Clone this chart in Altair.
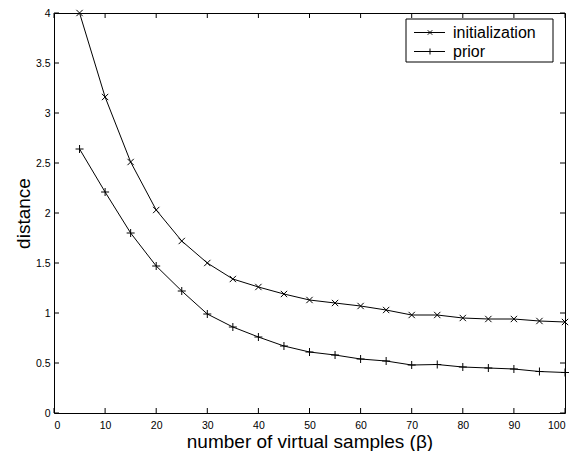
import altair as alt
import pandas as pd

# ---- data ----
beta = [5, 10, 15, 20, 25, 30, 35, 40, 45, 50, 55, 60, 65, 70, 75, 80, 85, 90, 95, 100]
init_dist = [4.00, 3.16, 2.51, 2.03, 1.72, 1.50, 1.34, 1.26, 1.19, 1.13,
             1.10, 1.07, 1.03, 0.98, 0.98, 0.95, 0.94, 0.94, 0.92, 0.91]
prior_dist = [2.64, 2.21, 1.80, 1.47, 1.22, 0.99, 0.86, 0.76, 0.67, 0.61,
              0.58, 0.54, 0.52, 0.48, 0.485, 0.46, 0.45, 0.44, 0.415, 0.405]
series_names = ["initialization", "prior"]
x_ticks = [0, 10, 20, 30, 40, 50, 60, 70, 80, 90, 100]
y_ticks = [0, 0.5, 1, 1.5, 2, 2.5, 3, 3.5, 4]

X_PATH = "M-1,-1L1,1M-1,1L1,-1"
PLUS_PATH = "M-1,0L1,0M0,-1L0,1"

W, H = 511, 400
FONT = "Liberation Sans"

rows = []
for b, v in zip(beta, init_dist):
    rows.append({"beta": b, "distance": v, "series": series_names[0]})
for b, v in zip(beta, prior_dist):
    rows.append({"beta": b, "distance": v, "series": series_names[1]})
df = pd.DataFrame(rows)

xdf = pd.DataFrame({"t": x_ticks})
ydf = pd.DataFrame({"t": y_ticks})
legdf = pd.DataFrame({"series": series_names})

xscale = alt.Scale(domain=[0, 100], nice=False, zero=False)
yscale = alt.Scale(domain=[0, 4], nice=False, zero=False)

X = alt.X("beta:Q", scale=xscale,
          axis=alt.Axis(values=x_ticks, title="number of virtual samples (β)",
                        grid=False, domain=False, ticks=False, labelPadding=7,
                        labelFontSize=10.5, titleFontSize=19, titleFontWeight="normal",
                        titleBaseline="alphabetic", titleY=34, labelColor="black",
                        titleColor="black", labelFont=FONT, titleFont=FONT))
Y = alt.Y("distance:Q", scale=yscale,
          axis=alt.Axis(values=y_ticks, format="~g", title="distance", grid=False, domain=False,
                        ticks=False, labelPadding=4, labelFontSize=10.5,
                        titleFontSize=19, titleFontWeight="normal",
                        titleBaseline="alphabetic", titleX=-25, titleY=H / 2,
                        titleAlign="center", titleAngle=270, labelColor="black",
                        titleColor="black", labelFont=FONT, titleFont=FONT))

lines = alt.Chart(df).mark_line(color="black", strokeWidth=1).encode(
    x=X, y=Y, detail="series:N")

points = alt.Chart(df).mark_point(filled=False, color="black", strokeWidth=1, opacity=1).encode(
    x="beta:Q", y="distance:Q",
    shape=alt.Shape("series:N", scale=alt.Scale(domain=series_names, range=[X_PATH, PLUS_PATH]), legend=None),
    size=alt.Size("series:N", scale=alt.Scale(domain=series_names, range=[40, 64]), legend=None),
)

tk = dict(color="black", strokeWidth=1)
xt_bot = alt.Chart(xdf).mark_rule(**tk).encode(x=alt.X("t:Q", scale=xscale), y=alt.value(H), y2=alt.value(H - 5))
xt_top = alt.Chart(xdf).mark_rule(**tk).encode(x=alt.X("t:Q", scale=xscale), y=alt.value(0), y2=alt.value(5))
yt_left = alt.Chart(ydf).mark_rule(**tk).encode(y=alt.Y("t:Q", scale=yscale), x=alt.value(0), x2=alt.value(5))
yt_right = alt.Chart(ydf).mark_rule(**tk).encode(y=alt.Y("t:Q", scale=yscale), x=alt.value(W - 5), x2=alt.value(W))

# legend box
lx0, lx1, ly0, ly1 = 352, 499, 6, 49
row_y = [19.5, 38.5]
leg_box = alt.Chart(legdf.head(1)).mark_rect(fill="white", stroke="black", strokeWidth=1).encode(
    x=alt.value(lx0), x2=alt.value(lx1), y=alt.value(ly0), y2=alt.value(ly1))
leg_layers = [leg_box]
for i, (name, path, sz) in enumerate(zip(series_names, [X_PATH, PLUS_PATH], [20, 36])):
    d = legdf[legdf.series == name]
    leg_layers.append(alt.Chart(d).mark_rule(color="black", strokeWidth=1).encode(
        x=alt.value(360), x2=alt.value(391), y=alt.value(row_y[i])))
    leg_layers.append(alt.Chart(d).mark_point(filled=False, color="black", strokeWidth=1,
                                              shape=path, size=sz, opacity=1).encode(
        x=alt.value(376), y=alt.value(row_y[i])))
    leg_layers.append(alt.Chart(d).mark_text(align="left", baseline="middle", fontSize=16,
                                             font=FONT, color="black").encode(
        text="series:N", x=alt.value(399), y=alt.value(row_y[i])))

chart = alt.layer(lines, points, xt_bot, xt_top, yt_left, yt_right, *leg_layers).properties(
    width=W, height=H,
    autosize=alt.AutoSizeParams(type="none"),
    padding={"left": 46, "top": 5, "right": 7, "bottom": 38},
    background="white",
).configure_view(stroke="black", strokeWidth=1)

chart.save("out.html", embed_options={"renderer": "svg", "actions": False})
